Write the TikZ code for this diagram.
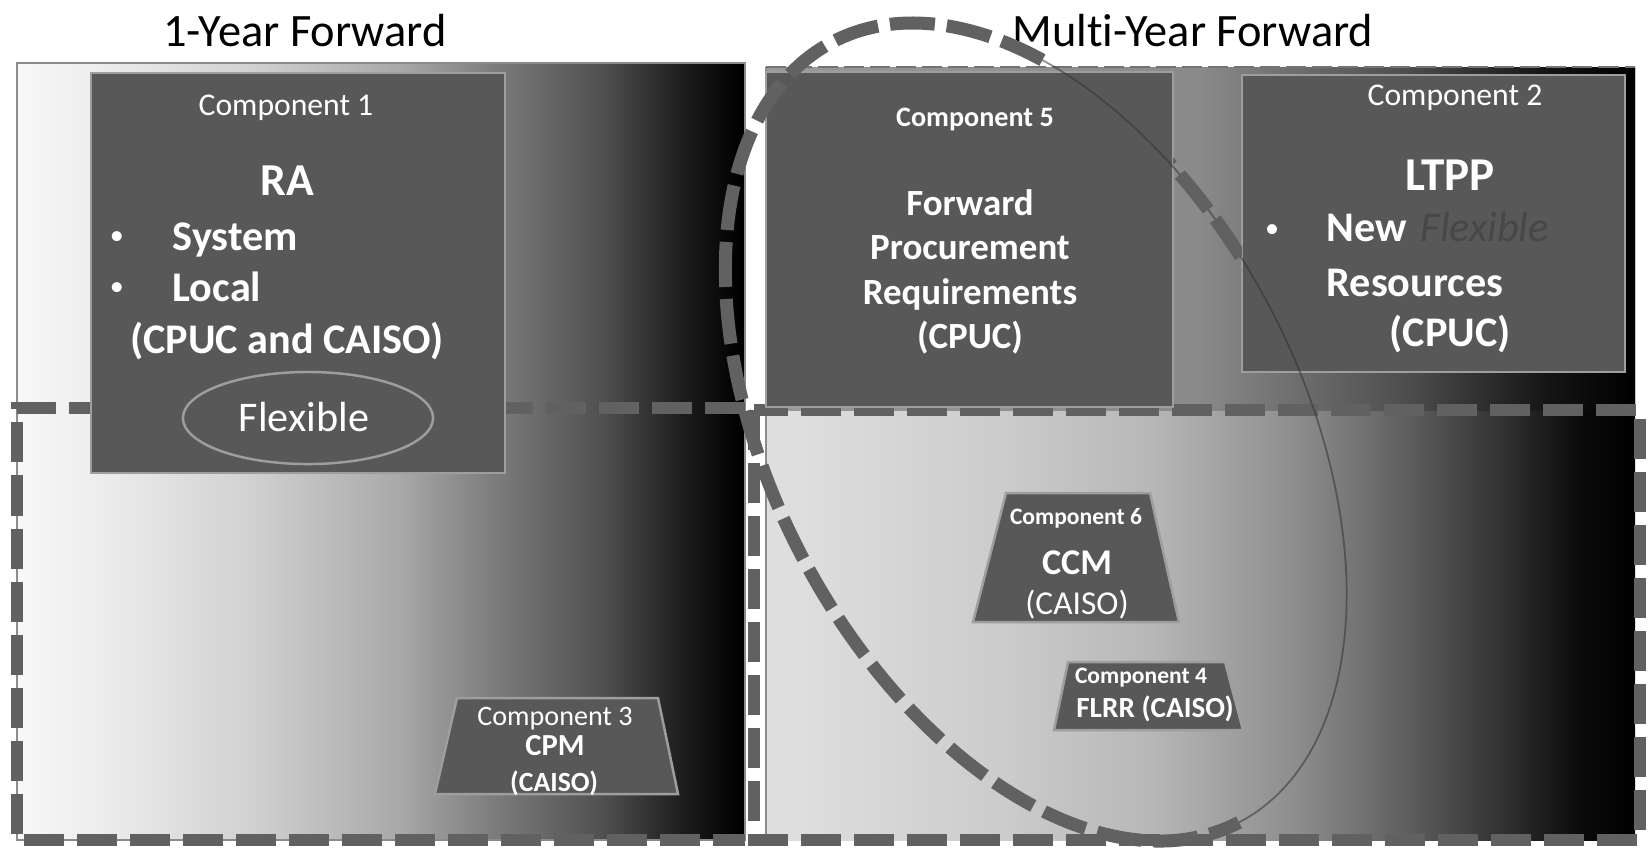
\documentclass[tikz,border=0pt]{standalone}
\usepackage{fontspec}
\setmainfont{Carlito}[Ligatures={TeX,NoCommon}]
\definecolor{boxgray}{HTML}{585858}
\pgfdeclarehorizontalshading{leftcol}{100bp}{color(0bp)=(black!3); color(25bp)=(black!3); color(30.7bp)=(black!7); color(41bp)=(black!18); color(51.3bp)=(black!34); color(58bp)=(black!52); color(65bp)=(black!68); color(70.5bp)=(black!88); color(74.7bp)=(black); color(100bp)=(black)}
\pgfdeclarehorizontalshading{rightcol}{100bp}{color(0bp)=(black!13); color(27bp)=(black!13); color(38.5bp)=(black!20); color(47bp)=(black!28); color(55.7bp)=(black!45); color(61.5bp)=(black!62); color(67.2bp)=(black!80); color(71.8bp)=(black!96); color(75bp)=(black); color(100bp)=(black)}
\pgfdeclarehorizontalshading{righttop}{100bp}{color(0bp)=(black!40); color(25bp)=(black!40); color(50bp)=(black!46); color(62bp)=(black!70); color(70bp)=(black!92); color(75bp)=(black); color(100bp)=(black)}
\tikzset{
  dframe/.style={draw=black!62, line width=0.12cm, dash pattern=on 0.40cm off 0.13cm},
  boxsh/.style={fill=boxgray, draw=black!38, line width=0.7pt},
  bigdash/.style={draw=black!62, line width=0.13cm, dash pattern=on 0.45cm off 0.12cm},
  faint/.style={draw=black!80, line width=0.5pt, opacity=0.55},
  wt/.style={text=white, inner sep=0pt},
  bul/.style={text=white, inner sep=0pt, anchor=base, font=\fontsize{8}{10}\selectfont},
  ttl/.style={text=black, inner sep=0pt, font=\fontsize{13.2}{15}\selectfont},
}
\begin{document}
\begin{tikzpicture}[x=0.01cm,y=-0.01cm]
\useasboundingbox (0,0) rectangle (1652,850);
\fill[white] (0,0) rectangle (1652,850);
% columns
\shade[shading=leftcol] (17,63) rectangle (745,840);
\draw[black!45, line width=0.6pt] (17,63) rectangle (745,840);
\shade[shading=rightcol] (766,67) rectangle (1635,840);
\shade[shading=righttop] (766,67) rectangle (1635,410);
\draw[black!45, line width=0.6pt] (766,67) -- (766,840);
\draw[black!55, line width=0.6pt, dash pattern=on 0.2cm off 0.06cm] (766,67) -- (1635,67);
% dashed frames
\draw[dframe] (745,408) -- (17,408) -- (17,840) -- (745,840);
\draw[dframe] (754,410) rectangle (1640,840);
% titles
\node[ttl, anchor=base] (t1) at (305,46) {1-Year Forward};
\node[ttl, anchor=base] (t2) at (1193,46) {Multi-Year Forward};
% component boxes
\draw[boxsh] (91,73) rectangle (505,473);
\draw[boxsh] (308,418) ellipse [x radius=1.25cm, y radius=0.46cm];
\draw[boxsh] (766,72) rectangle (1173,407);
\draw[boxsh] (1242,75) rectangle (1625,372);
\draw[boxsh] (1006,493) -- (1150,493) -- (1179,622) -- (973,622) -- cycle;
\draw[boxsh] (1068,662) -- (1225,662) -- (1243,730) -- (1054,730) -- cycle;
\draw[boxsh] (457,698) -- (658,698) -- (678,794) -- (435,794) -- cycle;
% component 1 texts
\node[wt, anchor=base, font=\fontsize{9}{11}\selectfont] (c1) at (286,115) {Component 1};
\node[wt, anchor=base, font=\fontsize{13}{15}\selectfont\bfseries] (ra) at (287,195) {RA};
\node[bul] (b1) at (117,244) {•};
\node[wt, anchor=base west, font=\fontsize{12}{14}\selectfont\bfseries] (sys) at (172,250) {System};
\node[bul] (b2) at (117,295) {•};
\node[wt, anchor=base west, font=\fontsize{12}{14}\selectfont\bfseries] (loc) at (172,301) {Local};
\node[wt, anchor=base, font=\fontsize{12}{14}\selectfont\bfseries] (cc) at (287,353) {(CPUC and CAISO)};
\node[wt, anchor=base, font=\fontsize{12}{14}\selectfont] (flex) at (304,431) {Flexible};
% component 5 texts
\node[wt, anchor=base, font=\fontsize{8}{10}\selectfont\bfseries] (c5) at (975,126) {Component 5};
\node[wt, anchor=base, font=\fontsize{10.5}{12}\selectfont\bfseries] (fw) at (970,215) {Forward};
\node[wt, anchor=base, font=\fontsize{10.5}{12}\selectfont\bfseries] (pr) at (970,259) {Procurement};
\node[wt, anchor=base, font=\fontsize{10.5}{12}\selectfont\bfseries] (rq) at (970,304) {Requirements};
\node[wt, anchor=base, font=\fontsize{10.5}{12}\selectfont\bfseries] (cp5) at (970,348) {(CPUC)};
% component 2 texts
\node[wt, anchor=base, font=\fontsize{9}{11}\selectfont] (c2) at (1455,105) {Component 2};
\node[wt, anchor=base, font=\fontsize{13.4}{15}\selectfont\bfseries] (ltpp) at (1450,190) {LTPP};
\node[bul] (b3) at (1272,237) {•};
\node[wt, anchor=base west, font=\fontsize{12}{14}\selectfont\bfseries] (new) at (1326,241) {New};
\node[inner sep=0pt, anchor=base west, text=black!72, font=\fontsize{12}{14}\selectfont\itshape] (flx2) at (1420,241) {Flexible};
\node[wt, anchor=base west, font=\fontsize{12}{14}\selectfont\bfseries] (res) at (1326,296) {Resources};
\node[wt, anchor=base, font=\fontsize{12}{14}\selectfont\bfseries] (cp2) at (1450,346) {(CPUC)};
% component 6
\node[wt, anchor=base, font=\fontsize{6.7}{8}\selectfont\bfseries] (c6) at (1076,524) {Component 6};
\node[wt, anchor=base, font=\fontsize{10.3}{12}\selectfont\bfseries] (ccm) at (1077,574) {CCM};
\node[wt, anchor=base, font=\fontsize{9.5}{11}\selectfont] (ca6) at (1077,614) {(CAISO)};
% component 4
\node[wt, anchor=base, font=\fontsize{6.7}{8}\selectfont\bfseries] (c4) at (1141,683) {Component 4};
\node[wt, anchor=base, font=\fontsize{8.3}{10}\selectfont\bfseries] (flrr) at (1155,717) {FLRR (CAISO)};
% component 3
\node[wt, anchor=base, font=\fontsize{8}{10}\selectfont] (c3) at (555,725) {Component 3};
\node[wt, anchor=base, font=\fontsize{8.7}{10}\selectfont\bfseries] (cpm) at (555,755) {CPM};
\node[wt, anchor=base, font=\fontsize{7.9}{10}\selectfont\bfseries] (ca3) at (554,791) {(CAISO)};
% big dashed loop
\draw[faint] plot[domain=0:138, samples=120, variable=\t] ({1036+203.1*cos(\t)+235.1*sin(\t)}, {432+390.3*cos(\t)-122.4*sin(\t)});
\begin{scope}
\clip (1173,67) rectangle (1242,410);
\draw[bigdash] plot[domain=60:138, samples=80, variable=\t] ({1036+203.1*cos(\t)+235.1*sin(\t)}, {432+390.3*cos(\t)-122.4*sin(\t)});
\end{scope}
\draw[bigdash] plot[domain=138:360, samples=200, variable=\t] ({1036+203.1*cos(\t)+235.1*sin(\t)}, {432+390.3*cos(\t)-122.4*sin(\t)});
\end{tikzpicture}
\end{document}
